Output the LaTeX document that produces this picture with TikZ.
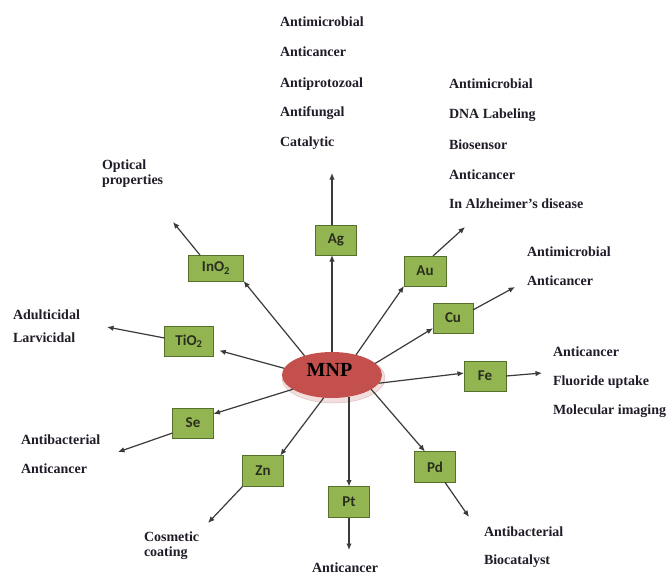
\documentclass[tikz,border=0pt]{standalone}
\usepackage{fontspec}
\setmainfont{Liberation Serif}
\newfontfamily\boxfont{Carlito}
\usetikzlibrary{arrows.meta,shapes.geometric}
\definecolor{boxfill}{HTML}{92B552}
\definecolor{boxedge}{HTML}{56702C}
\definecolor{boxtxt}{HTML}{2A2E1E}
\definecolor{mnpred}{HTML}{C4504D}
\definecolor{rimcol}{HTML}{F2DEDD}
\definecolor{rimedge}{HTML}{D8B8B6}
\definecolor{linegray}{HTML}{3A3A3A}
\definecolor{txt}{HTML}{221C28}
\tikzset{
  mbox/.style={draw=boxedge, fill=boxfill, line width=1pt, minimum width=41pt,
    minimum height=30pt, inner sep=0pt, outer sep=0pt,
    font=\boxfont\bfseries\fontsize{15}{17}\selectfont, text=boxtxt},
  arr/.style={draw=linegray, line width=1.2pt, -{Latex[length=6.5pt,width=5.5pt]}},
  lbl/.style={anchor=base west, inner sep=0pt, outer sep=0pt,
    font=\bfseries\fontsize{14}{16}\selectfont, text=txt},
  mnpell/.style={ellipse, fill=mnpred, minimum width=100pt, minimum height=46pt,
    inner sep=0pt, outer sep=0pt},
  mnptext/.style={inner sep=0pt, font=\bfseries\fontsize{20}{22}\selectfont, text=black}
}
\begin{document}
\begin{tikzpicture}[x=1pt,y=-1pt]
\useasboundingbox (0,0) rectangle (666,576);
\fill[white] (0,0) rectangle (666,576);

% central ellipse with light rim
\fill[rimcol, draw=rimedge, line width=0.4pt] (333.5,378) ellipse [x radius=51.5, y radius=25];
\node[mnpell] (mnp) at (332,375) {};
\node[mnptext] (mnpl) at (329.5,370) {MNP};

% element boxes
\node[mbox] (ag) at (336,240) {Ag};
\node[mbox, minimum width=42pt] (au) at (425,271) {Au};
\node[mbox, minimum width=55pt, minimum height=26pt] (ino) at (216,268) {InO\textsubscript{2}};
\node[mbox, minimum width=40pt] (cu) at (453,318) {Cu};
\node[mbox, minimum width=49pt] (tio) at (189,341) {TiO\textsubscript{2}};
\node[mbox, minimum width=42pt] (fe) at (485,376) {Fe};
\node[mbox] (se) at (193,423) {Se};
\node[mbox, minimum height=31pt] (zn) at (263,471) {Zn};
\node[mbox, minimum height=31pt] (pt) at (349,502) {Pt};
\node[mbox, minimum height=31pt] (pd) at (435,467) {Pd};

% free ends of outgoing arrows
\coordinate (agT) at (332,173);
\coordinate (auT) at (465,227);
\coordinate (cuT) at (515,287);
\coordinate (feT) at (542,373);
\coordinate (pdT) at (469,517);
\coordinate (ptT) at (349,550);
\coordinate (znT) at (208,523);
\coordinate (seT) at (118,452);
\coordinate (tiT) at (107,327);
\coordinate (inT) at (173,222);

% MNP -> elements
\draw[arr] (mnp.north) -- (ag.south -| mnp.north);
\draw[arr] (mnp.40) -- (au.south west);
\draw[arr] (mnp.15) -- (cu.207);
\draw[arr] (mnp.-10) -- (fe.172);
\draw[arr] (mnp.-20) -- (pd.123);
\draw[arr] (pt.north |- mnp.-60) -- (pt.north);
\draw[arr] (mnp.250) -- (zn.42);
\draw[arr] (mnp.200) -- (se.24);
\draw[arr, shorten >=6pt] (mnp.172) -- (tio.-18);
\draw[arr] (mnp.145) -- (ino.south east);

% elements -> applications
\draw[arr] (ag.north -| mnp.north) -- (agT);
\draw[arr] (au.62) -- (auT);
\draw[arr] (cu.22) -- (cuT);
\draw[arr] (fe.east) -- (feT);
\draw[arr] (pd.-57) -- (pdT);
\draw[arr] (pt.south) -- (ptT);
\draw[arr] (zn.south west) -- (znT);
\draw[arr] (se.206) -- (seT);
\draw[arr] (tio.173) -- (tiT);
\draw[arr] (ino.141) -- (inT);

% Ag applications
\node[lbl] (ag1) at (280,26.5) {Antimicrobial};
\node[lbl] (ag2) at (280,56.5) {Anticancer};
\node[lbl] (ag3) at (280,87) {Antiprotozoal};
\node[lbl] (ag4) at (280,116.5) {Antifungal};
\node[lbl] (ag5) at (280,146) {Catalytic};
% Au applications
\node[lbl] (au1) at (449,88) {Antimicrobial};
\node[lbl] (au2) at (449,118) {DNA Labeling};
\node[lbl] (au3) at (449,149) {Biosensor};
\node[lbl] (au4) at (449,179) {Anticancer};
\node[lbl] (au5) at (449,208) {In Alzheimer’s disease};
% InO2
\node[lbl] (in1) at (102,169) {Optical};
\node[lbl] (in2) at (102,184) {properties};
% Cu
\node[lbl] (cu1) at (527,256) {Antimicrobial};
\node[lbl] (cu2) at (527,285) {Anticancer};
% Fe
\node[lbl] (fe1) at (553,356) {Anticancer};
\node[lbl] (fe2) at (553,385) {Fluoride uptake};
\node[lbl] (fe3) at (553,414) {Molecular imaging};
% TiO2
\node[lbl] (ti1) at (13,319) {Adulticidal};
\node[lbl] (ti2) at (13,342) {Larvicidal};
% Se
\node[lbl] (se1) at (21,444) {Antibacterial};
\node[lbl] (se2) at (21,473) {Anticancer};
% Zn
\node[lbl] (zn1) at (144,541) {Cosmetic};
\node[lbl] (zn2) at (144,556) {coating};
% Pt
\node[lbl] (pt1) at (312,572) {Anticancer};
% Pd
\node[lbl] (pd1) at (484,536) {Antibacterial};
\node[lbl] (pd2) at (484,564) {Biocatalyst};
\end{tikzpicture}
\end{document}
